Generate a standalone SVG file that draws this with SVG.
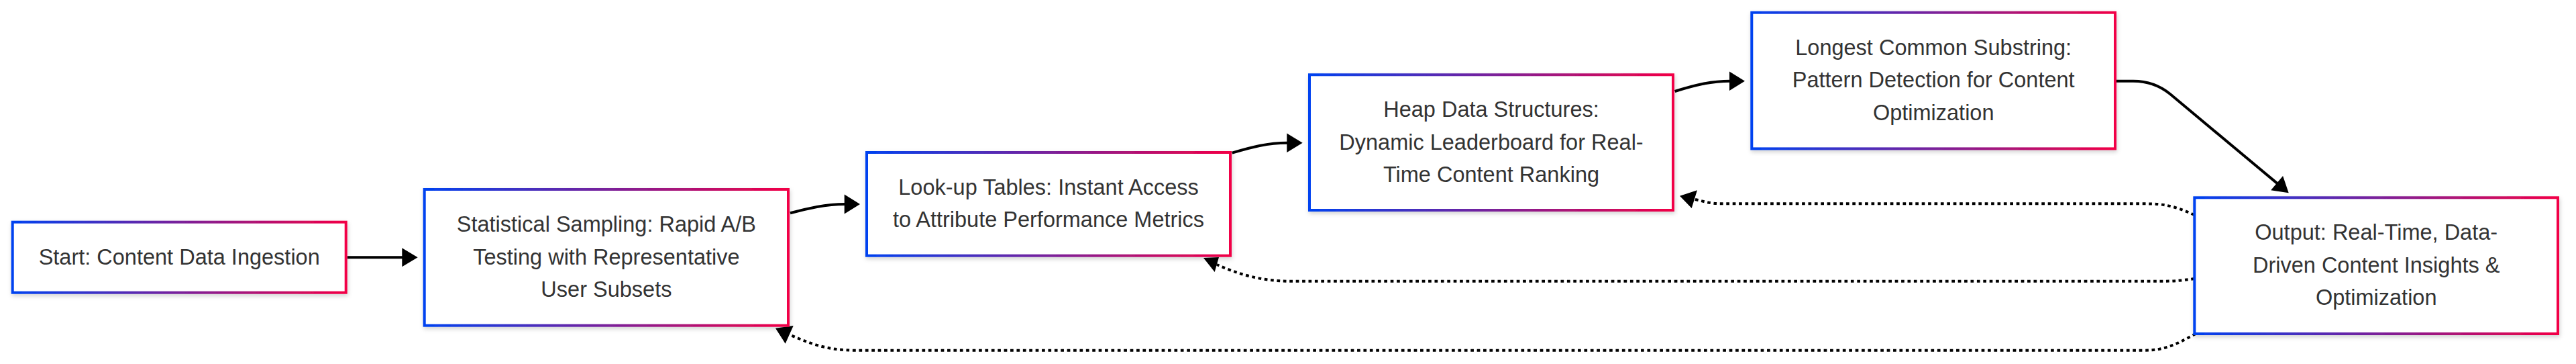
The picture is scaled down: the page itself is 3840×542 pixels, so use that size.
<svg xmlns="http://www.w3.org/2000/svg" width="3840" height="542" viewBox="0 0 3840 542">
  <style>
    .node rect { fill: #ffffff; stroke: url(#grad); stroke-width: 4; filter: url(#shadow); }
    .node text { font-family: "Liberation Sans", Arial, sans-serif; font-size: 32.5px; fill: #333333; text-anchor: middle; }
    .edge { fill: none; stroke: #000000; stroke-width: 4; }
    .dotted { stroke-dasharray: 4.7 4.7; }
    .head { fill: #000000; stroke: none; }
  </style>
  <defs>
    <linearGradient id="grad" x1="0" y1="0" x2="1" y2="0">
      <stop offset="0" stop-color="#0042f0"/>
      <stop offset="1" stop-color="#f20046"/>
    </linearGradient>
    <filter id="shadow" x="-10%" y="-20%" width="120%" height="140%">
      <feDropShadow dx="1" dy="3" stdDeviation="3" flood-color="#000000" flood-opacity="0.18"/>
    </filter>
  </defs>

  <g id="connectors">
    <!-- Start -> Statistical Sampling -->
    <path class="edge" d="M517.7,383.3 L600,383.3"/>
    <polygon class="head" points="599.3,369.3 622.7,383.3 599.3,397.3"/>
    <!-- Statistical Sampling -> Look-up Tables -->
    <path class="edge" d="M1178,317.3 C1205,310 1230,304 1260,304"/>
    <polygon class="head" points="1258.7,289.5 1282,304 1258.7,318.5"/>
    <!-- Look-up Tables -> Heap -->
    <path class="edge" d="M1836.7,227.7 C1865,219 1890,212.7 1919,212.7"/>
    <polygon class="head" points="1918.3,198.5 1941.7,212.7 1918.3,226.9"/>
    <!-- Heap -> LCS -->
    <path class="edge" d="M2496.7,136 C2525,127 2550,120.7 2579,120.7"/>
    <polygon class="head" points="2578,106.5 2601,120.7 2578,134.9"/>
    <!-- LCS -> Output -->
    <path class="edge" d="M3155,120.7 L3180,120.7 C3200,120.7 3218,126 3235,140 L3395,273.4"/>
    <polygon class="head" points="3385.1,283.3 3411.7,287.3 3403.1,261.9"/>
    <!-- Output -> Heap (dotted) -->
    <path class="edge dotted" d="M3271,320 C3240,306 3225,303.3 3195,303.3 L2565,303.3 C2550,303.3 2540,300 2526,296.7"/>
    <polygon class="head" points="2504,291.7 2530,283.3 2521.7,310"/>
    <!-- Output -> Look-up Tables (dotted) -->
    <path class="edge dotted" d="M3271,415 C3250,418 3240,418.8 3220,418.8 L1925,418.8 C1880,418.8 1845,408 1814,394"/>
    <polygon class="head" points="1794,384 1817,383 1810.7,405"/>
    <!-- Output -> Statistical Sampling (dotted) -->
    <path class="edge dotted" d="M3273,497 C3240,515 3225,521.7 3195,521.7 L1275,521.7 C1230,521.7 1205,510 1176.7,498.3"/>
    <polygon class="head" points="1156,488.7 1182.7,485 1170.7,511.7"/>
  </g>

  <g id="node-start" class="node">
    <rect x="18.7" y="330.7" width="497" height="105"/>
    <text x="267.2" y="393.5">Start: Content Data Ingestion</text>
  </g>

  <g id="node-sampling" class="node">
    <rect x="632.7" y="282" width="542.3" height="202.7"/>
    <text x="903.9" y="345.2">Statistical Sampling: Rapid A/B</text>
    <text x="903.9" y="393.7">Testing with Representative</text>
    <text x="903.9" y="442.2">User Subsets</text>
  </g>

  <g id="node-lookup" class="node">
    <rect x="1292" y="227" width="542" height="153.7"/>
    <text x="1563" y="290">Look-up Tables: Instant Access</text>
    <text x="1563" y="338.4">to Attribute Performance Metrics</text>
  </g>

  <g id="node-heap" class="node">
    <rect x="1952" y="111.3" width="542" height="201.7"/>
    <text x="2223" y="174">Heap Data Structures:</text>
    <text x="2223" y="222.5">Dynamic Leaderboard for Real-</text>
    <text x="2223" y="271">Time Content Ranking</text>
  </g>

  <g id="node-lcs" class="node">
    <rect x="2611.3" y="18.7" width="541.7" height="202.7"/>
    <text x="2882.2" y="81.8">Longest Common Substring:</text>
    <text x="2882.2" y="130.3">Pattern Detection for Content</text>
    <text x="2882.2" y="178.8">Optimization</text>
  </g>

  <g id="node-output" class="node">
    <rect x="3271.3" y="294.3" width="541.7" height="202.7"/>
    <text x="3542.2" y="357.4">Output: Real-Time, Data-</text>
    <text x="3542.2" y="405.9">Driven Content Insights &amp;</text>
    <text x="3542.2" y="454.4">Optimization</text>
  </g>
</svg>
